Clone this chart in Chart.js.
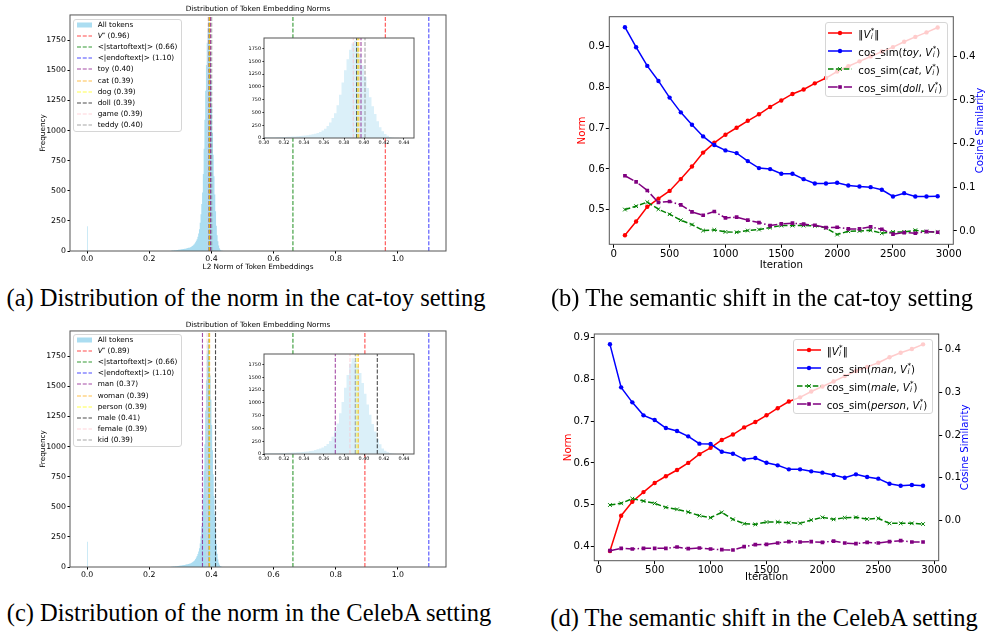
<!DOCTYPE html>
<html>
<head>
<meta charset="utf-8">
<script src="https://cdn.jsdelivr.net/npm/chart.js@4.4.1/dist/chart.umd.min.js"></script>
<style>
  body { margin: 0; background: #fff; }
  #page { position: relative; width: 989px; height: 633px; overflow: hidden; font-family: "DejaVu Sans", sans-serif; }
  canvas { position: absolute; }
  .cap { position: absolute; font-family: "Liberation Serif", serif; font-size: 24.5px; line-height: 28px; white-space: nowrap; transform: translateX(-50%); color: #000; }
  .lg { position: absolute; box-sizing: border-box; background: rgba(255,255,255,0.8); border: 1px solid #d6d6d6; border-radius: 3px; }
  .row { position: absolute; left: 0; right: 0; height: 10px; white-space: nowrap; }
  .row svg { position: absolute; top: 0; }
  .row span.t { position: absolute; top: 0; line-height: 10px; color: #000; }
  .st { display: inline-block; font-size: 0.7em; line-height: 0.85em; vertical-align: -0.2em; margin-left: 0.05em; }
  .st b { display: block; font-weight: normal; }
  sup.s { font-size: 0.7em; vertical-align: 0.45em; line-height: 0; }
</style>
</head>
<body>
<div id="page">
  <canvas id="histA" width="460" height="275" style="left:0px;top:0px"></canvas>
  <canvas id="insetA" width="180" height="124" style="left:240px;top:26px"></canvas>
  <canvas id="simB" width="449" height="280" style="left:540px;top:0px"></canvas>
  <canvas id="histC" width="460" height="275" style="left:0px;top:316px"></canvas>
  <canvas id="insetC" width="180" height="124" style="left:240px;top:342px"></canvas>
  <canvas id="simD" width="449" height="280" style="left:540px;top:310px"></canvas>
  <div class="cap" style="left:246px;top:284px">(a) Distribution of the norm in the cat-toy setting</div>
  <div class="cap" style="left:762px;top:284px">(b) The semantic shift in the cat-toy setting</div>
  <div class="cap" style="left:249px;top:599px">(c) Distribution of the norm in the CelebA setting</div>
  <div class="cap" style="left:764px;top:604px">(d) The semantic shift in the CelebA setting</div>
</div>
<script>
// histogram of token norms, bins of 0.0025 starting at 0.27
var binStart = 0.27, binWidth = 0.0025;
var countsA = [3, 4, 4, 5, 6, 6, 7, 8, 9, 10, 11, 12,
  13, 14, 15, 16, 17, 18, 19, 21, 22, 24, 26, 28, 30, 33, 37, 42,
  48, 55, 62, 72, 85, 98, 118, 145, 180, 235, 305, 390,
  485, 640, 850, 1090, 1330, 1545, 1730, 1850, 1905, 1830, 1650, 1420,
  1200, 980, 800, 620, 470, 330, 210, 130, 80, 45, 22, 10, 5, 3, 2, 1];
var countsC = [3, 3, 4, 5, 5, 6, 7, 7, 8, 9, 10, 11,
  12, 13, 14, 15, 16, 17, 19, 20, 22, 23, 25, 27, 29, 32, 35, 39,
  44, 50, 57, 66, 78, 92, 108, 128, 155, 195, 255, 340,
  450, 600, 800, 1020, 1300, 1550, 1770, 1875, 1820, 1720, 1590, 1390,
  1180, 970, 770, 590, 440, 300, 190, 110, 62, 35, 18, 9, 4, 2, 1, 0];
var zeroSpikeA = 205, zeroSpikeC = 210;
var histYMax = 1960;
var histXTicks = [0, 0.2, 0.4, 0.6, 0.8, 1.0];
var histYTicks = [0, 250, 500, 750, 1000, 1250, 1500, 1750];
var insetXTicks = [0.30, 0.32, 0.34, 0.36, 0.38, 0.40, 0.42, 0.44];

var vStarA = 0.9597, vStarC = 0.894;
var startNorm = 0.6624, endNorm = 1.0997;
var tokensA = ['toy', 'cat', 'dog', 'doll', 'game', 'teddy'];
var tokenNormsA = [0.397, 0.3948, 0.3938, 0.3927, 0.3893, 0.401];
var tokensC = ['man', 'woman', 'person', 'male', 'female', 'kid'];
var tokenNormsC = [0.3713, 0.3943, 0.393, 0.4133, 0.386, 0.3913];
var tokenColors = ['rgba(128,0,128,0.7)', 'rgba(255,165,0,0.7)', 'rgba(255,255,0,0.7)',
  'rgba(0,0,0,0.7)', 'rgba(255,192,203,0.7)', 'rgba(128,128,128,0.7)'];

// semantic shift during training
var iterations = [100, 200, 300, 400, 500, 600, 700, 800, 900, 1000, 1100, 1200, 1300, 1400, 1500,
  1600, 1700, 1800, 1900, 2000, 2100, 2200, 2300, 2400, 2500, 2600, 2700, 2800, 2900];
var normB = [0.437, 0.471, 0.507, 0.527, 0.546, 0.575, 0.606, 0.640, 0.664, 0.684, 0.701, 0.718, 0.734, 0.752, 0.768,
  0.784, 0.795, 0.810, 0.823, 0.839, 0.852, 0.864, 0.876, 0.888, 0.899, 0.912, 0.924, 0.935, 0.947];
var toySimB = [0.4665, 0.4207, 0.3778, 0.3434, 0.3052, 0.2715, 0.2432, 0.2164, 0.1966, 0.1843, 0.1782, 0.1598, 0.1438, 0.1415, 0.1308,
  0.1308, 0.1185, 0.1086, 0.1086, 0.1101, 0.104, 0.1017, 0.1002, 0.0941, 0.0788, 0.0864, 0.0788, 0.0788, 0.0795];
var catSimB = [0.0489, 0.0566, 0.0658, 0.0497, 0.0382, 0.0245, 0.0145, 0.0008, 0.0023, -0.0023, -0.0031, 0.0008, 0.0031, 0.0076, 0.0122,
  0.0122, 0.0122, 0.0115, 0.0069, -0.0084, -0.0008, 0.0, 0.0015, -0.0054, -0.0023, -0.0023, 0.0015, -0.0015, -0.0031];
var dollSimB = [0.1262, 0.1124, 0.0925, 0.065, 0.0673, 0.0597, 0.0436, 0.0359, 0.0444, 0.0298, 0.0314, 0.0245, 0.0191, 0.0122, 0.0161,
  0.0176, 0.0153, 0.013, 0.0076, 0.0084, 0.0046, 0.0046, 0.0092, 0.0038, -0.0076, -0.0038, -0.0054, -0.0015, -0.0031];
var normD = [0.389, 0.4735, 0.507, 0.530, 0.552, 0.568, 0.583, 0.600, 0.621, 0.636, 0.655, 0.668, 0.685, 0.698, 0.714,
  0.731, 0.747, 0.757, 0.771, 0.783, 0.795, 0.808, 0.820, 0.830, 0.840, 0.853, 0.864, 0.873, 0.884];
var manSimD = [0.4117, 0.3113, 0.2763, 0.2459, 0.235, 0.2163, 0.2093, 0.1969, 0.1798, 0.179, 0.1611, 0.1564, 0.1432, 0.1463, 0.1354,
  0.1292, 0.1198, 0.1198, 0.1152, 0.1121, 0.1066, 0.1004, 0.1082, 0.1019, 0.0981, 0.0864, 0.0817, 0.0833, 0.0817];
var maleSimD = [0.0366, 0.0405, 0.0514, 0.0459, 0.0405, 0.0311, 0.0265, 0.0202, 0.0117, 0.007, 0.0195, 0.0031, -0.007, -0.0086, -0.0031,
  -0.0031, -0.0047, -0.0062, 0.0016, 0.0078, 0.0031, 0.007, 0.0078, 0.0039, 0.0054, -0.0062, -0.0062, -0.0062, -0.0078];
var personSimD = [-0.07, -0.0646, -0.0661, -0.0646, -0.0646, -0.0646, -0.0615, -0.0654, -0.0638, -0.0661, -0.0677, -0.0685, -0.0607, -0.056, -0.0553,
  -0.0521, -0.049, -0.0498, -0.049, -0.0506, -0.0475, -0.0521, -0.0537, -0.0506, -0.0521, -0.049, -0.0467, -0.0498, -0.0498];
var iterTicks = [0, 500, 1000, 1500, 2000, 2500, 3000];
var normTicksB = [0.5, 0.6, 0.7, 0.8, 0.9];
var normTicksD = [0.4, 0.5, 0.6, 0.7, 0.8, 0.9];
var simTicksB = [0.0, 0.1, 0.2, 0.3, 0.4];
var simTicksD = [0.0, 0.1, 0.2, 0.3, 0.4];

Chart.defaults.font.family = '"DejaVu Sans", sans-serif';
Chart.defaults.color = '#000';
Chart.defaults.animation = false;

function fnt(size) { return { family: '"DejaVu Sans"', size: size, weight: 'normal' }; }
function fixW(w) { return function (s) { s.width = w; }; }
function fixH(h) { return function (s) { s.height = h; }; }
function setTicks(list) { return function (s) { s.ticks = list.map(function (v) { return { value: v }; }); }; }
function fmt(d) { return function (v) { return d < 0 ? String(v) : Number(v).toFixed(d); }; }

// box round the plot area, white fill for the insets, right axis title
var framePlugin = {
  id: 'frame',
  beforeDatasetsDraw: function (chart, args, o) {
    if (!o.fill) return;
    var a = chart.chartArea, ctx = chart.ctx;
    ctx.save();
    ctx.fillStyle = '#fff';
    ctx.fillRect(a.left, a.top, a.right - a.left, a.bottom - a.top);
    ctx.restore();
  },
  afterDraw: function (chart, args, o) {
    var a = chart.chartArea, ctx = chart.ctx;
    ctx.save();
    ctx.strokeStyle = '#555';
    ctx.lineWidth = 1;
    ctx.strokeRect(a.left, a.top, a.right - a.left, a.bottom - a.top);
    if (o.rightTitle) {
      ctx.translate(o.rightTitleX, (a.top + a.bottom) / 2);
      ctx.rotate(-Math.PI / 2);
      ctx.fillStyle = o.rightColor;
      ctx.font = o.rightSize + 'px "DejaVu Sans"';
      ctx.textAlign = 'center';
      ctx.textBaseline = 'middle';
      ctx.fillText(o.rightTitle, 0, 0);
    }
    ctx.restore();
  }
};

function histPoints(counts) {
  var pts = counts.map(function (c, i) { return { x: binStart + i * binWidth, y: c }; });
  pts.push({ x: binStart + counts.length * binWidth, y: 0 });
  return pts;
}

function markLines(vStar, norms) {
  var marks = [{ v: vStar, c: 'rgba(255,0,0,0.7)' }, { v: startNorm, c: 'rgba(0,128,0,0.8)' }, { v: endNorm, c: 'rgba(0,0,255,0.7)' }];
  norms.forEach(function (v, i) { marks.push({ v: v, c: tokenColors[i] }); });
  return marks.map(function (m) {
    return { data: [{ x: m.v, y: 0 }, { x: m.v, y: histYMax }], borderColor: m.c, borderWidth: 1.1,
      borderDash: [4, 1.75], pointRadius: 0, fill: false, order: 0 };
  });
}

function histChart(id, counts, spike, vStar, norms) {
  var ds = markLines(vStar, norms);
  ds.push({ data: histPoints(counts), stepped: true, fill: 'origin', backgroundColor: 'rgba(135,206,235,0.7)',
    borderColor: 'rgba(0,0,0,0)', borderWidth: 0, pointRadius: 0, order: 5 });
  ds.push({ data: [{ x: 0, y: spike }, { x: binWidth, y: 0 }], stepped: true, fill: 'origin',
    backgroundColor: 'rgba(135,206,235,0.7)', borderColor: 'rgba(0,0,0,0)', borderWidth: 0, pointRadius: 0, order: 5 });
  new Chart(document.getElementById(id), {
    type: 'line',
    data: { datasets: ds },
    plugins: [framePlugin],
    options: {
      responsive: false, events: [],
      layout: { padding: { left: 0, right: 14, top: 0, bottom: 0 } },
      plugins: {
        legend: { display: false }, tooltip: { enabled: false },
        title: { display: true, fullSize: false, text: 'Distribution of Token Embedding Norms', font: fnt(7.3), color: '#000', padding: { top: 5.1, bottom: 1.1 } },
        frame: {}
      },
      scales: {
        x: { type: 'linear', min: -0.055, max: 1.155, afterFit: fixH(24), afterBuildTicks: setTicks(histXTicks),
          ticks: { font: fnt(7.8), color: '#000', padding: 0.8, maxRotation: 0, autoSkip: false, callback: fmt(1) },
          grid: { drawOnChartArea: false, tickLength: 2.5, color: '#000' }, border: { display: false },
          title: id === 'histA' ? { display: true, text: 'L2 Norm of Token Embeddings', font: fnt(7.3), color: '#000', padding: { top: 0, bottom: 3.6 } } : { display: false } },
        y: { type: 'linear', min: 0, max: histYMax, afterFit: fixW(70), afterBuildTicks: setTicks(histYTicks),
          ticks: { font: fnt(7.8), color: '#000', padding: 1.5, autoSkip: false, callback: fmt(-1) },
          grid: { drawOnChartArea: false, tickLength: 2.5, color: '#000' }, border: { display: false },
          title: { display: true, text: 'Frequency', font: fnt(7.3), color: '#000', padding: { top: 38.3, bottom: 0 } } }
      }
    }
  });
}

function insetChart(id, counts, vStar, norms) {
  var ds = markLines(vStar, norms);
  ds.push({ data: histPoints(counts), stepped: true, fill: 'origin', backgroundColor: 'rgba(135,206,235,0.3)',
    borderColor: 'rgba(0,0,0,0)', borderWidth: 0, pointRadius: 0, order: 5 });
  new Chart(document.getElementById(id), {
    type: 'line',
    data: { datasets: ds },
    plugins: [framePlugin],
    options: {
      responsive: false, events: [],
      layout: { padding: { left: 0, right: 6, top: 12, bottom: 0 } },
      plugins: { legend: { display: false }, tooltip: { enabled: false }, frame: { fill: true } },
      scales: {
        x: { type: 'linear', min: 0.30, max: 0.45, afterFit: fixH(12), afterBuildTicks: setTicks(insetXTicks),
          ticks: { font: fnt(4.9), color: '#000', padding: 0, maxRotation: 0, autoSkip: false, callback: fmt(2) },
          grid: { drawOnChartArea: false, tickLength: 1.5, color: '#000' }, border: { display: false } },
        y: { type: 'linear', min: 0, max: histYMax, afterFit: fixW(24), afterBuildTicks: setTicks(histYTicks),
          ticks: { font: fnt(4.9), color: '#000', padding: 1.5, autoSkip: false, callback: fmt(-1) },
          grid: { drawOnChartArea: false, tickLength: 1.5, color: '#000' }, border: { display: false } }
      }
    }
  });
}

function series(vals, color, dash, style, radius, axis, order) {
  return {
    data: iterations.map(function (x, i) { return { x: x, y: vals[i] }; }),
    borderColor: color, backgroundColor: color, borderWidth: 1.5, borderDash: dash,
    pointStyle: style, pointRadius: radius, pointBorderWidth: style === 'crossRot' ? 1 : 0,
    pointBackgroundColor: color, pointBorderColor: color, yAxisID: axis, order: order, fill: false
  };
}

function simChart(id, sets, g) {
  var axisStyle = { drawOnChartArea: false, tickLength: 3.5, color: '#000' };
  new Chart(document.getElementById(id), {
    type: 'line',
    data: { datasets: sets },
    plugins: [framePlugin],
    options: {
      responsive: false, events: [],
      layout: { padding: { left: 0, right: 0, top: g.top, bottom: 0 } },
      plugins: { legend: { display: false }, tooltip: { enabled: false },
        frame: { rightTitle: 'Cosine Similarity', rightTitleX: g.rightTitleX, rightColor: '#0000ff', rightSize: 10.2 } },
      scales: {
        x: { type: 'linear', min: -40, max: 3040, afterFit: fixH(g.xH), afterBuildTicks: setTicks(iterTicks),
          ticks: { font: fnt(10.2), color: '#000', padding: 0, maxRotation: 0, autoSkip: false, callback: fmt(-1) },
          grid: axisStyle, border: { display: false },
          title: { display: true, text: 'Iteration', font: fnt(10.2), color: '#000', padding: { top: 0, bottom: g.iterPad } } },
        y: { type: 'linear', position: 'left', min: g.normMin, max: g.normMax, afterFit: fixW(g.leftW), afterBuildTicks: setTicks(g.normTicks),
          ticks: { font: fnt(10.2), color: '#000', padding: 1, autoSkip: false, callback: fmt(1) },
          grid: axisStyle, border: { display: false },
          title: { display: true, text: 'Norm', font: fnt(10.2), color: '#ff0000', padding: { top: g.normPad, bottom: 0 } } },
        y1: { type: 'linear', position: 'right', min: g.simMin, max: g.simMax, afterFit: fixW(g.rightW), afterBuildTicks: setTicks(g.simTicks),
          ticks: { font: fnt(10.2), color: '#000', padding: 2.5, autoSkip: false, callback: fmt(1) },
          grid: axisStyle, border: { display: false } }
      }
    }
  });
}

histChart('histA', countsA, zeroSpikeA, vStarA, tokenNormsA);
insetChart('insetA', countsA, vStarA, tokenNormsA);
histChart('histC', countsC, zeroSpikeC, vStarC, tokenNormsC);
insetChart('insetC', countsC, vStarC, tokenNormsC);

simChart('simB', [
  series(normB, '#ff0000', [], 'circle', 2.2, 'y', 4),
  series(toySimB, '#0000ff', [], 'circle', 2.2, 'y1', 3),
  series(catSimB, '#008000', [5.5, 2.4], 'crossRot', 2.6, 'y1', 2),
  series(dollSimB, '#800080', [9.6, 2.4, 1.5, 2.4], 'rect', 2.6, 'y1', 1)
], { top: 16.7, xH: 35.7, iterPad: 8.2, leftW: 69.3, rightW: 35.7, normPad: 36.6, rightTitleX: 440,
  normMin: 0.4149, normMax: 0.9736, simMin: -0.0307, simMax: 0.4905, normTicks: normTicksB, simTicks: simTicksB });

simChart('simD', [
  series(normD, '#ff0000', [], 'circle', 2.2, 'y', 4),
  series(manSimD, '#0000ff', [], 'circle', 2.2, 'y1', 3),
  series(maleSimD, '#008000', [5.5, 2.4], 'crossRot', 2.6, 'y1', 2),
  series(personSimD, '#800080', [9.6, 2.4, 1.5, 2.4], 'rect', 2.6, 'y1', 1)
], { top: 24, xH: 29.3, iterPad: 6.9, leftW: 54.3, rightW: 50.3, normPad: 22.2, rightTitleX: 425,
  normMin: 0.3657, normMax: 0.9088, simMin: -0.0934, simMax: 0.4358, normTicks: normTicksD, simTicks: simTicksD });

// legends (html so the math labels keep their sub/superscripts)
var page = document.getElementById('page');
function lineSvg(w, color, lw, dash) {
  return '<line x1="0" y1="5" x2="' + w + '" y2="5" stroke="' + color + '" stroke-width="' + lw + '"' +
    (dash ? ' stroke-dasharray="' + dash.join(' ') + '"' : '') + '/>';
}
function markerSvg(w, color, style) {
  var c = w / 2;
  if (style === 'circle') return '<circle cx="' + c + '" cy="5" r="2.2" fill="' + color + '"/>';
  if (style === 'rect') return '<rect x="' + (c - 1.8) + '" y="3.2" width="3.6" height="3.6" fill="' + color + '"/>';
  return '<path d="M' + (c - 1.8) + ' 3.2L' + (c + 1.8) + ' 6.8M' + (c - 1.8) + ' 6.8L' + (c + 1.8) + ' 3.2" stroke="' + color + '" stroke-width="1"/>';
}
function legend(left, top, w, h, rows, o) {
  var div = document.createElement('div');
  div.className = 'lg';
  div.style.cssText = 'left:' + left + 'px;top:' + top + 'px;width:' + w + 'px;height:' + h + 'px';
  rows.forEach(function (r, i) {
    var row = document.createElement('div');
    row.className = 'row';
    row.style.top = (o.first + i * o.gap - 5) + 'px';
    row.innerHTML = '<svg width="' + o.hw + '" height="10" style="left:' + o.hx + 'px">' + r.svg + '</svg>' +
      '<span class="t" style="left:' + o.tx + 'px;font-size:' + o.fs + 'px">' + r.html + '</span>';
    div.appendChild(row);
  });
  page.appendChild(div);
}
function histLegendRows(vStar, names, norms) {
  var hw = 15, dash = [4, 1.75];
  var rows = [
    { svg: '<rect x="0" y="2.5" width="' + hw + '" height="5" fill="rgba(135,206,235,0.7)"/>', html: 'All tokens' },
    { svg: lineSvg(hw, 'rgba(255,0,0,0.7)', 1.1, dash), html: '<i>V</i><sup class="s">*</sup> (' + vStar.toFixed(2) + ')' },
    { svg: lineSvg(hw, 'rgba(0,128,0,0.8)', 1.1, dash), html: '&lt;|startoftext|&gt; (' + startNorm.toFixed(2) + ')' },
    { svg: lineSvg(hw, 'rgba(0,0,255,0.7)', 1.1, dash), html: '&lt;|endoftext|&gt; (' + endNorm.toFixed(2) + ')' }
  ];
  names.forEach(function (n, i) {
    rows.push({ svg: lineSvg(hw, tokenColors[i], 1.1, dash), html: n + ' (' + norms[i].toFixed(2) + ')' });
  });
  return rows;
}
var st = '<span class="st"><b>*</b><b><i>i</i></b></span>';
function simLegendRows(names) {
  var hw = 24;
  return [
    { svg: lineSvg(hw, '#ff0000', 1.5) + markerSvg(hw, '#ff0000', 'circle'), html: '\u2016<i>V</i>' + st + '\u2016' },
    { svg: lineSvg(hw, '#0000ff', 1.5) + markerSvg(hw, '#0000ff', 'circle'), html: 'cos_sim(<i>' + names[0] + '</i>, <i>V</i>' + st + ')' },
    { svg: lineSvg(hw, '#008000', 1.5, [5.5, 2.4]) + markerSvg(hw, '#008000', 'cross'), html: 'cos_sim(<i>' + names[1] + '</i>, <i>V</i>' + st + ')' },
    { svg: lineSvg(hw, '#800080', 1.5, [9.6, 2.4, 1.5, 2.4]) + markerSvg(hw, '#800080', 'rect'), html: 'cos_sim(<i>' + names[2] + '</i>, <i>V</i>' + st + ')' }
  ];
}
var histLg = { first: 5, gap: 11.1, hx: 2.7, hw: 15, tx: 23.7, fs: 7.3 };
legend(73, 19, 109, 113, histLegendRows(vStarA, tokensA, tokenNormsA), histLg);
legend(73, 334, 109, 113, histLegendRows(vStarC, tokensC, tokenNormsC), histLg);
legend(825, 22, 123, 75, simLegendRows(['toy', 'cat', 'doll']), { first: 10.3, gap: 18, hx: 2.3, hw: 24, tx: 32.3, fs: 10.2 });
legend(793, 339, 140, 75, simLegendRows(['man', 'male', 'person']), { first: 10, gap: 18, hx: 2.7, hw: 24, tx: 32.7, fs: 10.2 });
</script>
</body>
</html>
